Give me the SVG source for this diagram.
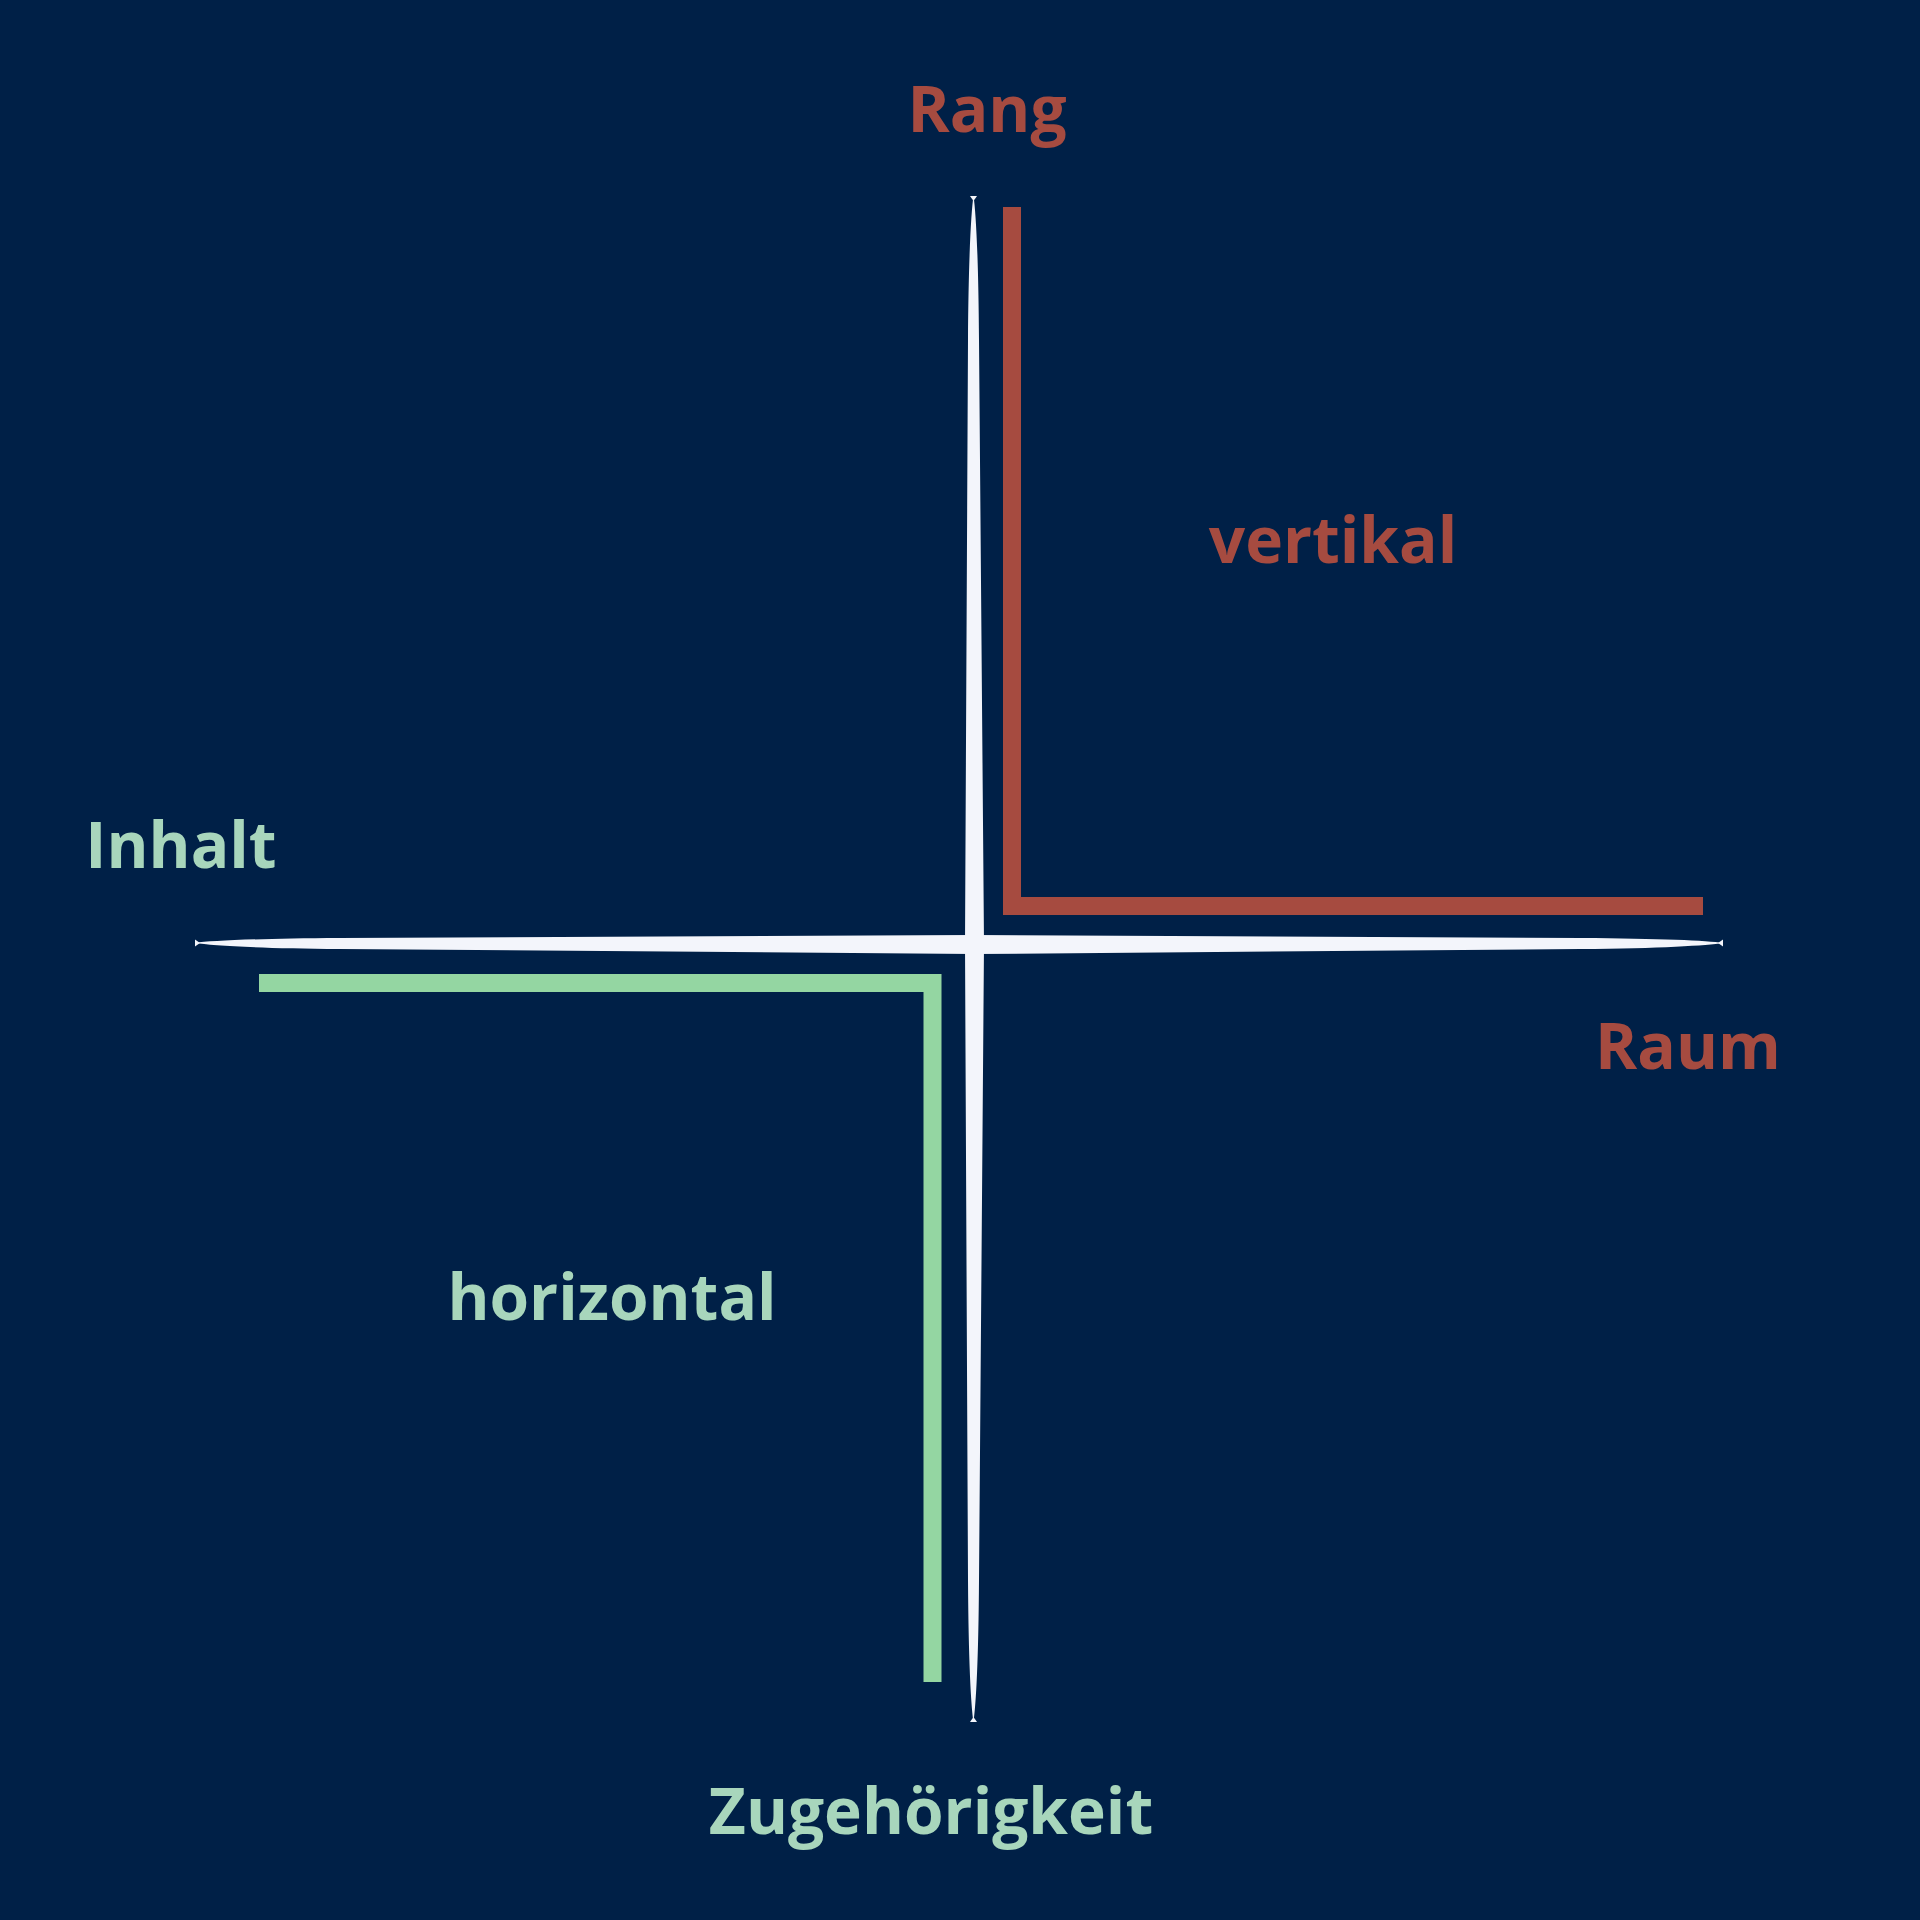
<svg xmlns="http://www.w3.org/2000/svg" width="1920" height="1920" viewBox="0 0 1920 1920">
<style>
.lbl{font-family:"Open Sans","Liberation Sans",sans-serif;font-weight:700;font-size:64px;text-anchor:middle}
.red{fill:#A64B40}
.grn{fill:#A8D6BC}
.axis{fill:#F3F5FB}
.bar{fill:none;stroke-width:18;stroke-linecap:butt;stroke-linejoin:miter}
</style>
<rect width="1920" height="1920" fill="#002047"/>
<g id="axes">
<path class="axis" d="M973.5,196 C976,212 978.5,260 979,340 L984,944 L979,1580 C978.5,1660 976,1706 973.5,1722 C971,1706 968.5,1660 968,1580 L965,944 L968,340 C968.5,260 971,212 973.5,196 Z"/>
<path class="axis" d="M195,943 C211,940.5 260,938.5 340,938 L974.5,935 L1580,938 C1660,938.5 1707,940.5 1723,943 C1707,945.5 1660,948.5 1580,949 L974.5,954 L340,949 C260,948.5 211,945.5 195,943 Z"/>
<path class="axis" d="M970,196 L977,196 L973.5,201 Z"/>
<path class="axis" d="M970,1722 L977,1722 L973.5,1717 Z"/>
<path class="axis" d="M195,939.5 L195,946.5 L200,943 Z"/>
<path class="axis" d="M1723,939.5 L1723,946.5 L1718,943 Z"/>
</g>
<g id="connectors">
<polyline class="bar" stroke="#A64B40" points="1012,207 1012,906 1703,906"/>
<polyline class="bar" stroke="#94D6A2" points="259,983 932.5,983 932.5,1682"/>
</g>
<g id="node-rang"><text class="lbl red" x="987" y="132">Rang</text></g>
<g id="node-vertikal"><text class="lbl red" x="1333" y="563">vertikal</text></g>
<g id="node-raum"><text class="lbl red" x="1688" y="1069">Raum</text></g>
<g id="node-inhalt"><text class="lbl grn" x="181" y="868">Inhalt</text></g>
<g id="node-horizontal"><text class="lbl grn" x="612" y="1320">horizontal</text></g>
<g id="node-zugehoerigkeit"><text class="lbl grn" x="931" y="1834">Zugehörigkeit</text></g>
</svg>
